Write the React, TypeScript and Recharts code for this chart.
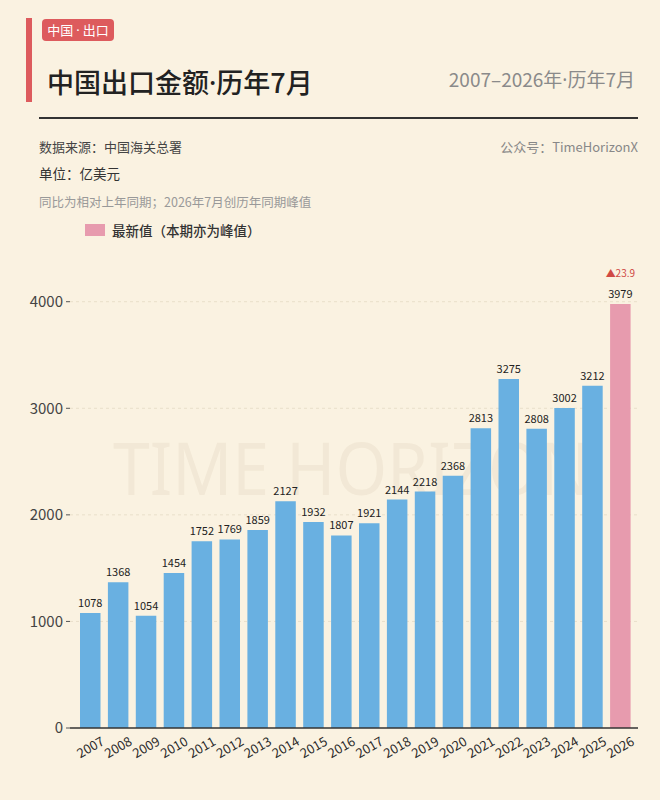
import React from 'react';
import { BarChart, Bar, XAxis, YAxis, CartesianGrid, Cell, LabelList } from 'recharts';

const years = ['2007','2008','2009','2010','2011','2012','2013','2014','2015','2016','2017','2018','2019','2020','2021','2022','2023','2024','2025','2026'];
const values = [1078,1368,1054,1454,1752,1769,1859,2127,1932,1807,1921,2144,2218,2368,2813,3275,2808,3002,3212,3979];
const yTicks = [0,1000,2000,3000,4000];
const gridValues = [1000,2000,3000,4000];
const latestYoY = '23.9';

const FONT = '"Noto Sans CJK SC", "Noto Sans", sans-serif';
const LATIN = '"Noto Sans", "DejaVu Sans", sans-serif';
const BG = '#faf2e1';
const BLUE = '#69b0e1';
const PINK = '#e79bae';
const RED = '#dd5b5d';

const data = years.map((y, i) => ({ year: y, value: values[i] }));
const lastIndex = data.length - 1;

const Dot = () => <span style={{ fontFamily: LATIN }}>·</span>;

const XTick = (props: any) => {
  const { x, y, payload } = props;
  return (
    <g transform={`translate(${x},${y + 18.5})`}>
      <text
        x={0}
        y={0}
        textAnchor="middle"
        dominantBaseline="central"
        transform="rotate(-30)"
        fontSize={13}
        fill="#2a2a2a"
        fontFamily={FONT}
      >
        {payload.value}
      </text>
    </g>
  );
};

const ValueLabel = (props: any) => {
  const { x, y, width, value, index } = props;
  const cx = x + width / 2;
  return (
    <g>
      <text x={cx} y={y - 6} textAnchor="middle" fontSize={11} fill="#222" fontFamily={FONT}>
        {value}
      </text>
      {index === lastIndex ? (
        <text x={cx} y={y - 27} textAnchor="middle" fontSize={10} fill="#d04a45" fontFamily={FONT}>
          {'▲' + latestYoY}
        </text>
      ) : null}
    </g>
  );
};

export default function App() {
  return (
    <div style={{ position: 'absolute', left: 0, top: 0, width: 660, height: 800, background: BG, fontFamily: FONT, overflow: 'hidden' }}>
      {/* header */}
      <div style={{ position: 'absolute', left: 26, top: 18, width: 6, height: 84, background: RED }} />
      <div style={{ position: 'absolute', left: 42, top: 19, width: 72, height: 22, background: RED, borderRadius: 4, color: '#fff', fontSize: 13, lineHeight: '22px', textAlign: 'center', whiteSpace: 'nowrap' }}>
        中国 <Dot /> 出口
      </div>
      <div style={{ position: 'absolute', left: 47, top: 63, fontSize: 27, lineHeight: '38px', color: '#222', fontWeight: 500, whiteSpace: 'nowrap' }}>
        中国出口金额<Dot />历年7月
      </div>
      <div style={{ position: 'absolute', right: 25, top: 64, fontSize: 19, lineHeight: '30px', color: '#8a8a8a', whiteSpace: 'nowrap' }}>
        2007–2026年<Dot />历年7月
      </div>
      <div style={{ position: 'absolute', left: 39, top: 116.5, width: 599, height: 2, background: '#333' }} />
      <div style={{ position: 'absolute', left: 39, top: 137, fontSize: 13, lineHeight: '20px', color: '#444', whiteSpace: 'nowrap' }}>
        数据来源：中国海关总署
      </div>
      <div style={{ position: 'absolute', right: 22, top: 137, fontSize: 13, lineHeight: '20px', color: '#888', whiteSpace: 'nowrap' }}>
        公众号：TimeHorizonX
      </div>
      <div style={{ position: 'absolute', left: 39, top: 163, fontSize: 13.5, lineHeight: '20px', color: '#333', whiteSpace: 'nowrap' }}>
        单位：亿美元
      </div>
      <div style={{ position: 'absolute', left: 39, top: 192, fontSize: 12.5, lineHeight: '20px', color: '#999', whiteSpace: 'nowrap' }}>
        同比为相对上年同期；2026年7月创历年同期峰值
      </div>
      <div style={{ position: 'absolute', left: 85, top: 224, width: 20, height: 12, background: PINK }} />
      <div style={{ position: 'absolute', left: 112, top: 220, fontSize: 13.5, lineHeight: '20px', color: '#333', fontWeight: 500, whiteSpace: 'nowrap' }}>
        最新值（本期亦为峰值）
      </div>

      {/* watermark */}
      <svg style={{ position: 'absolute', left: 0, top: 0 }} width={660} height={800}>
        <text x={113} y={495} textLength={477} lengthAdjust="spacingAndGlyphs" fontSize={73} fill="rgba(140,115,70,0.07)" fontFamily={LATIN}>
          TIME HORIZON
        </text>
      </svg>

      <div style={{ position: 'absolute', left: 0, top: 0 }}>
        <BarChart
          width={660}
          height={800}
          data={data}
          margin={{ top: 280.4, right: 22, bottom: 22, left: 0 }}
          barSize={20.5}
        >
          <CartesianGrid vertical={false} stroke="#e9dfca" strokeDasharray="3 3" horizontalValues={gridValues} />
          <XAxis
            dataKey="year"
            height={50}
            padding={{ left: 6, right: 4 }}
            tickLine={false}
            tickSize={0}
            tickMargin={0}
            interval={0}
            axisLine={{ stroke: '#333', strokeWidth: 1.5 }}
            tick={<XTick />}
          />
          <YAxis
            width={70}
            domain={[0, 4200]}
            ticks={yTicks}
            axisLine={false}
            tickLine={{ stroke: '#555' }}
            tickSize={4}
            tickMargin={3}
            tick={{ fontSize: 15, fill: '#444', fontFamily: FONT }}
          />
          <Bar dataKey="value" isAnimationActive={false}>
            {data.map((d, i) => (
              <Cell key={d.year} fill={i === lastIndex ? PINK : BLUE} />
            ))}
            <LabelList dataKey="value" content={<ValueLabel />} />
          </Bar>
        </BarChart>
      </div>
    </div>
  );
}
